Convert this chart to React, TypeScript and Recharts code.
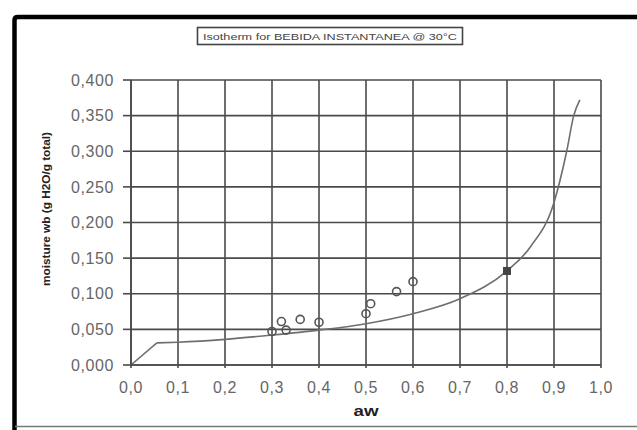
import {
  CartesianGrid,
  ComposedChart,
  Line,
  Scatter,
  XAxis,
  YAxis,
} from "recharts";

// isotherm curve (fitted model): steep start, then smooth rise
const rampAw = [0, 0.055];
const rampMoisture = [0, 0.031];
const curveAw = [0.055, 0.1, 0.2, 0.3, 0.4, 0.5, 0.6, 0.7, 0.8, 0.85, 0.9, 0.927, 0.942, 0.955];
const curveMoisture = [0.031, 0.032, 0.036, 0.042, 0.049, 0.058, 0.072, 0.093, 0.132, 0.166, 0.228, 0.3, 0.35, 0.372];

// measured points
const pointAw = [0.3, 0.32, 0.33, 0.36, 0.4, 0.5, 0.51, 0.565, 0.6];
const pointMoisture = [0.047, 0.061, 0.049, 0.064, 0.06, 0.072, 0.086, 0.103, 0.117];

const squareAw = [0.8];
const squareMoisture = [0.132];

const xTicks = [0, 0.1, 0.2, 0.3, 0.4, 0.5, 0.6, 0.7, 0.8, 0.9, 1.0];
const yTicks = [0, 0.05, 0.1, 0.15, 0.2, 0.25, 0.3, 0.35, 0.4];

const title = "Isotherm for BEBIDA INSTANTANEA @ 30°C";
const xTitle = "aw";
const yTitle = "moisture wb  (g H2O/g total)";

const ramp = rampAw.map((aw, i) => ({ aw, m: rampMoisture[i] }));
const curve = curveAw.map((aw, i) => ({ aw, m: curveMoisture[i] }));
const points = pointAw.map((aw, i) => ({ aw, m: pointMoisture[i] }));
const squares = squareAw.map((aw, i) => ({ aw, m: squareMoisture[i] }));

const GRID = "#4a4a4a";
const CURVE = "#6e6e6e";
const FONT = "Liberation Sans, Arial, sans-serif";
const tickStyle = { fill: "#666", fontSize: 16, fontFamily: FONT, letterSpacing: 0.6 };

const comma = (v: number, d: number) => v.toFixed(d).replace(".", ",");

const OpenMarker = (props: any) => (
  <circle cx={props.cx} cy={props.cy} r={4} fill="none" stroke="#555" strokeWidth={1.6} />
);

const SquareMarker = (props: any) => (
  <rect x={props.cx - 4} y={props.cy - 4} width={8} height={8} fill="#444" />
);

export default function App() {
  return (
    <div style={{ position: "absolute", left: 0, top: 0, width: 637, height: 430, background: "#fff" }}>
      <ComposedChart
        width={637}
        height={430}
        margin={{ top: 80, right: 36, bottom: 0, left: 0 }}
      >
        <CartesianGrid stroke={GRID} strokeWidth={1.6} horizontalValues={yTicks} verticalValues={xTicks} />
        <XAxis
          type="number"
          dataKey="aw"
          domain={[0, 1]}
          ticks={xTicks}
          interval={0}
          height={65}
          tickFormatter={(v: number) => comma(v, 1)}
          tick={tickStyle}
          tickSize={3}
          tickMargin={14}
          axisLine={{ stroke: GRID, strokeWidth: 1.6 }}
          tickLine={{ stroke: GRID, strokeWidth: 1.6 }}
        />
        <YAxis
          type="number"
          dataKey="m"
          domain={[0, 0.4]}
          ticks={yTicks}
          interval={0}
          width={131}
          tickFormatter={(v: number) => comma(v, 3)}
          tick={tickStyle}
          tickSize={8}
          tickMargin={9}
          axisLine={{ stroke: GRID, strokeWidth: 1.6 }}
          tickLine={{ stroke: GRID, strokeWidth: 1.6 }}
        />
        <Line
          data={ramp}
          dataKey="m"
          type="linear"
          stroke={CURVE}
          strokeWidth={1.6}
          dot={false}
          activeDot={false}
          isAnimationActive={false}
        />
        <Line
          data={curve}
          dataKey="m"
          type="monotone"
          stroke={CURVE}
          strokeWidth={1.6}
          dot={false}
          activeDot={false}
          isAnimationActive={false}
        />
        <Scatter data={points} dataKey="m" shape={OpenMarker} isAnimationActive={false} />
        <Scatter data={squares} dataKey="m" shape={SquareMarker} isAnimationActive={false} />
      </ComposedChart>
      <svg
        width={637}
        height={430}
        style={{ position: "absolute", left: 0, top: 0, pointerEvents: "none" }}
      >
        <path d="M14.5 430 V20 Q14.5 17 18 17 H637" fill="none" stroke="#000" strokeWidth={4.5} />
        <line x1={15} y1={426.5} x2={637} y2={426.5} stroke="#777" strokeWidth={1.5} />
        <rect x={197.5} y={27.5} width={265} height={17} fill="#fff" stroke="#444" strokeWidth={1.6} />
        <text
          x={330}
          y={40}
          textAnchor="middle"
          fontFamily={FONT}
          fontSize={9}
          fill="#444"
          textLength={254}
          lengthAdjust="spacingAndGlyphs"
        >
          {title}
        </text>
        <text
          x={46}
          y={209}
          transform="rotate(-90 46 209)"
          textAnchor="middle"
          dominantBaseline="central"
          fontFamily={FONT}
          fontSize={11}
          fontWeight="bold"
          fill="#222"
          textLength={154}
          lengthAdjust="spacingAndGlyphs"
        >
          {yTitle}
        </text>
        <text
          x={366}
          y={416}
          textAnchor="middle"
          fontFamily={FONT}
          fontSize={15}
          fontWeight="bold"
          fill="#222"
          textLength={25}
          lengthAdjust="spacingAndGlyphs"
        >
          {xTitle}
        </text>
      </svg>
    </div>
  );
}
